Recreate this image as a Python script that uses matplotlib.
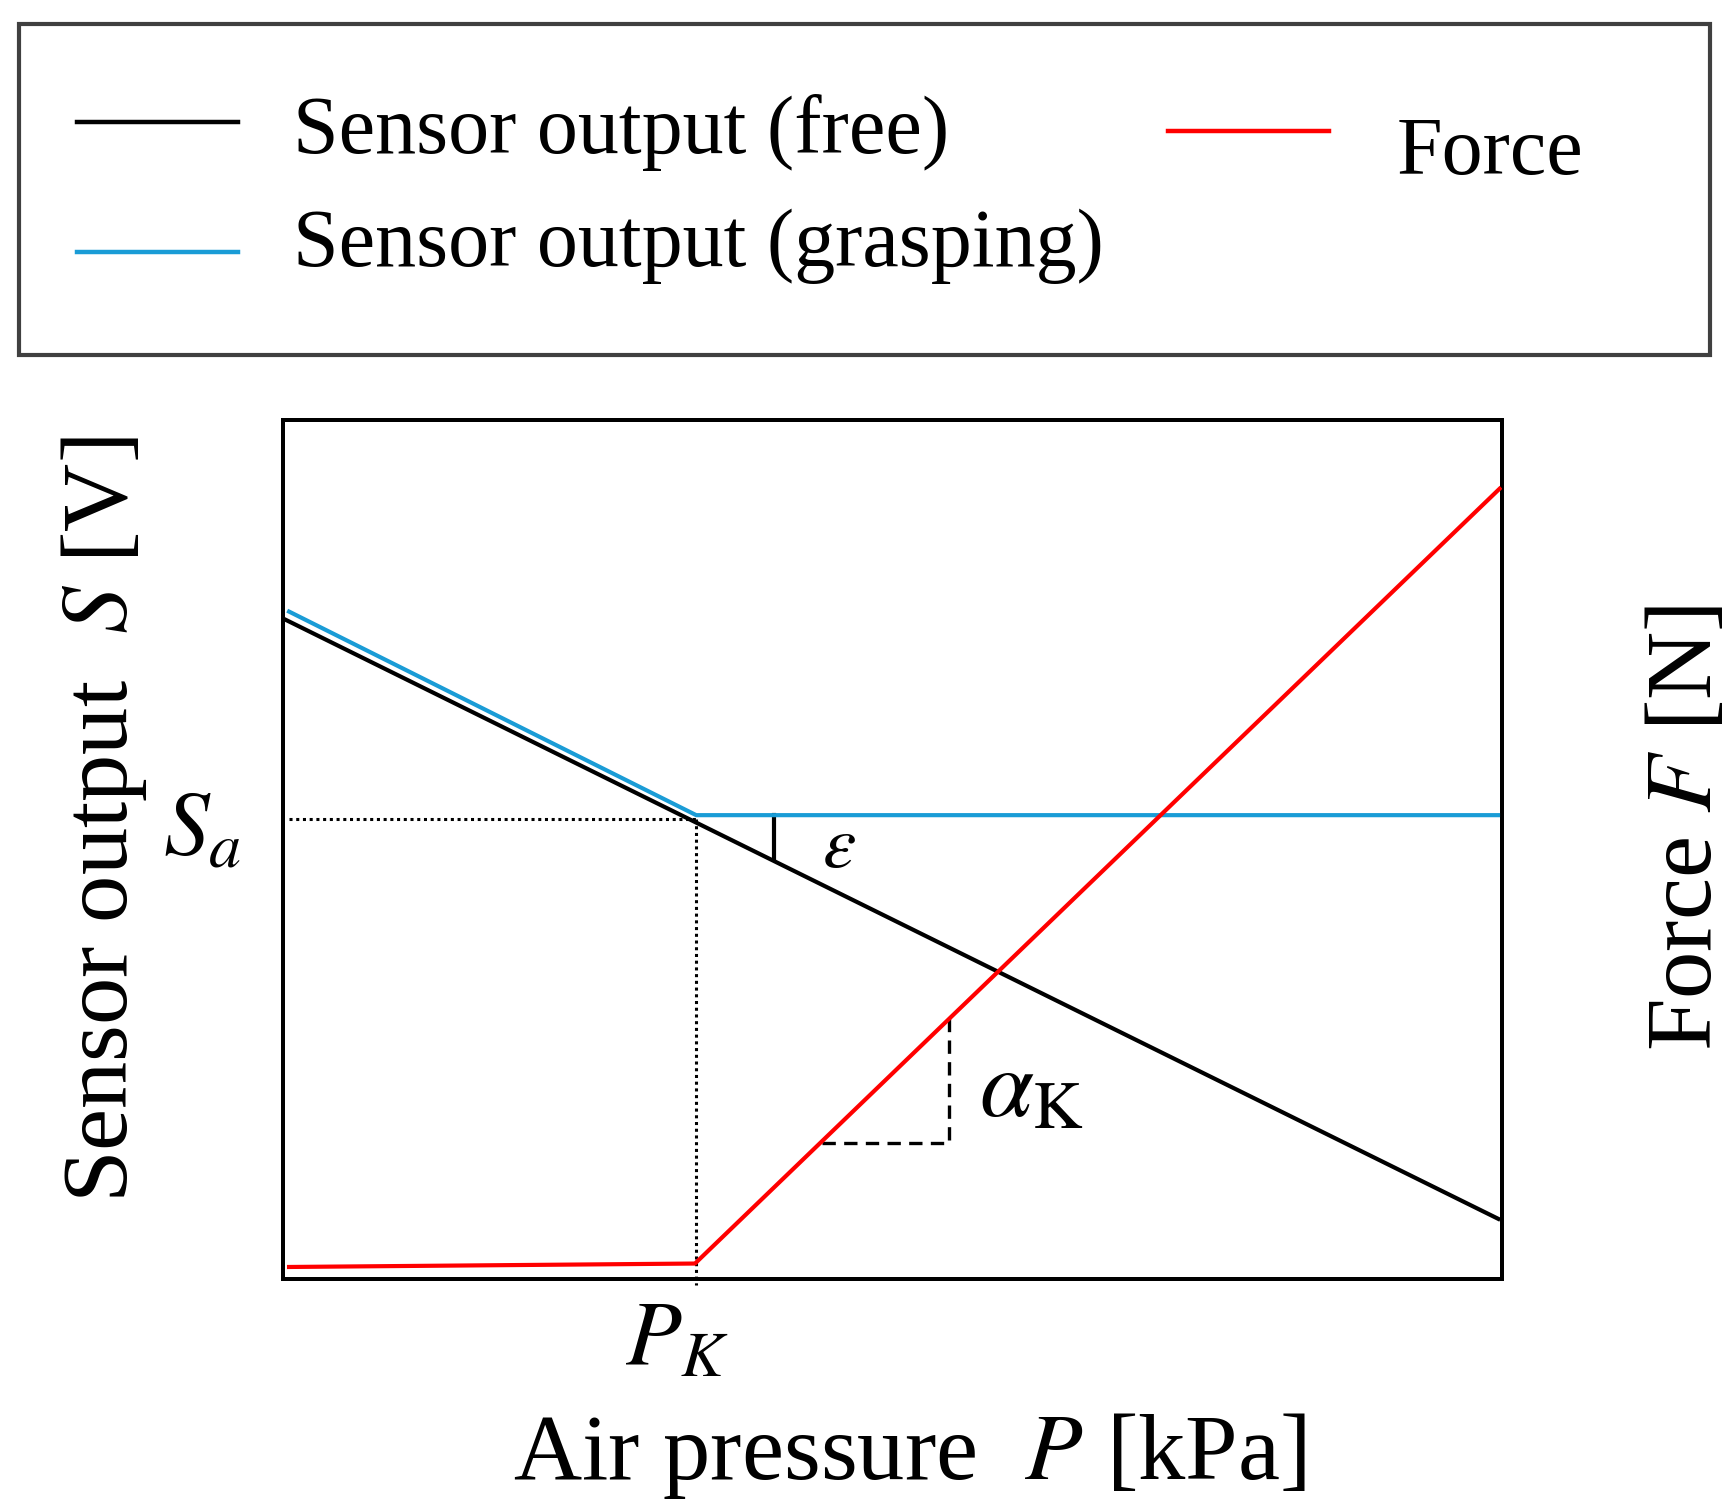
import matplotlib
matplotlib.use('Agg')
import matplotlib.pyplot as plt
from matplotlib.lines import Line2D
from matplotlib.patches import Rectangle
import matplotlib.transforms as mtransforms

plt.rcParams['font.family'] = ['Liberation Serif', 'DejaVu Serif']
plt.rcParams['mathtext.fontset'] = 'stix'

# schematic curves (arbitrary units, axis 0..10)
free_x = [0.0, 9.97]
free_y = [7.69, 0.70]
grasp_x = [0.05, 3.39, 9.98]
grasp_y = [7.77, 5.40, 5.40]
force_x = [0.05, 3.38, 9.98]
force_y = [0.14, 0.18, 9.20]

p_k = 3.39          # knee pressure
s_a = 5.35          # sensor output at knee
eps_x = 4.03        # epsilon marker position
eps_y = [4.90, 5.40]
slope_x = [4.42, 5.46]   # alpha_K triangle
slope_y = [1.585, 3.07]

legend_labels = ["Sensor output (free)", "Sensor output (grasping)", "Force"]
legend_colors = ["black", "#1a9cd6", "red"]

fig = plt.figure(figsize=(17.36, 15.12), dpi=100)
ax = fig.add_axes([0.1630, 0.1541, 0.7022, 0.5681])
ax2 = ax.twinx()

ax.plot(free_x, free_y, color=legend_colors[0], lw=3.0, zorder=3)
ax.plot(grasp_x, grasp_y, color=legend_colors[1], lw=3.0, zorder=4)
ax2.plot(force_x, force_y, color=legend_colors[2], lw=3.0, zorder=3)

# guide lines
ax.plot([0.05, p_k], [s_a, s_a], color='black', lw=2.2, ls=(0, (1, 1.2)))
ax.plot([p_k, p_k], [s_a, -0.07], color='black', lw=2.2, ls=(0, (1, 1.2)), clip_on=False)
ax.plot([eps_x, eps_x], eps_y, color='black', lw=3.0)
ax.plot([slope_x[0], slope_x[1], slope_x[1]], [slope_y[0], slope_y[0], slope_y[1]],
        color='black', lw=2.4, ls=(0, (4, 2.5)))

ax.text(4.56, 5.0, r'$\varepsilon$', fontsize=54, ha='center', va='center')
ax.text(6.14, 2.17, r'$\alpha_{\mathrm{K}}$', fontsize=70, ha='center', va='center')

trans = mtransforms.blended_transform_factory(ax.transData, ax.transAxes)
ax.text(p_k - 0.16, -0.026, r'$P_K$', fontsize=66, ha='center', va='top', transform=trans)
trans_y = mtransforms.blended_transform_factory(ax.transAxes, ax.transData)
ax.text(-0.034, 5.19, r'$S_a$', fontsize=66, ha='right', va='center', transform=trans_y)

for a in (ax, ax2):
    a.set_xlim(0, 10)
    a.set_ylim(0, 10)
    a.set_xticks([])
    a.set_yticks([])
    for sp in a.spines.values():
        sp.set_linewidth(2.8)

ax.set_xlabel(r'Air pressure  $P$ [kPa]', fontsize=68)
ax.xaxis.set_label_coords(0.514, -0.154)
ax.set_ylabel(r'Sensor output  $S$ [V]', fontsize=68)
ax.yaxis.set_label_coords(-0.110, 0.535)
ax2.set_ylabel(r'Force $F$ [N]', fontsize=68)
ax2.yaxis.set_label_coords(1.1185, 0.525)

# legend box drawn by hand to keep the original layout
fig.add_artist(Rectangle((0.01094, 0.7652), 0.974, 0.2189, transform=fig.transFigure,
                         facecolor='white', edgecolor='#404040', lw=3.0))
handle_pos = [(0.0444, 0.1371, 0.9193), (0.0444, 0.1371, 0.8333), (0.6728, 0.7656, 0.9134)]
text_pos = [(0.1688, 0.8988), (0.1688, 0.8241), (0.8047, 0.8849)]
for lab, col, (x0, x1, y), (tx, ty) in zip(legend_labels, legend_colors, handle_pos, text_pos):
    fig.add_artist(Line2D([x0, x1], [y, y], color=col, lw=3.2, transform=fig.transFigure))
    fig.text(tx, ty, lab, fontsize=59, ha='left', va='baseline')

plt.savefig("out.png", dpi=100)
